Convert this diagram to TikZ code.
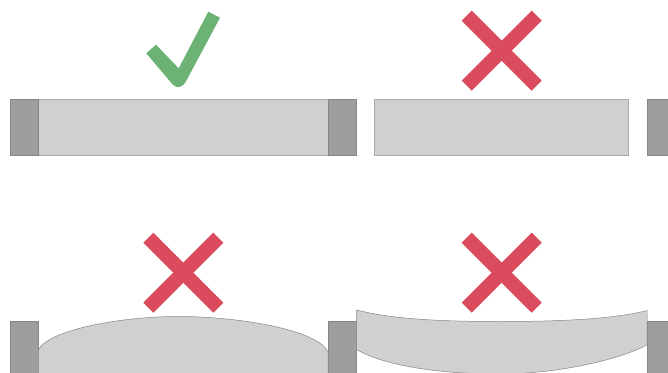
\documentclass[tikz,border=0pt]{standalone}
\definecolor{postfill}{HTML}{9D9E9D}
\definecolor{postline}{HTML}{858685}
\definecolor{slabfill}{HTML}{CFD1D0}
\definecolor{slabline}{HTML}{A9AAA9}
\definecolor{okgreen}{HTML}{6BB274}
\definecolor{badred}{HTML}{D94B5D}
\tikzset{
  post/.style={fill=postfill,draw=postline,line width=0.6pt},
  slab/.style={fill=slabfill,draw=slabline,line width=0.7pt},
  curved/.style={fill=slabfill,draw=postline,line width=0.5pt},
  bad/.style={draw=badred,line width=14.2pt,line cap=butt},
  pics/cross/.style={code={
    \draw[bad] (-35,-35) -- (35,35);
    \draw[bad] (-35,35) -- (35,-35);
  }}
}
\begin{document}
\begin{tikzpicture}[x=1pt,y=-1pt]
\useasboundingbox (0,0) rectangle (668,372);
\clip (0,0) rectangle (668,372);
% top left
\draw[slab] (38,99.5) rectangle (328,155);
\draw[post] (10.3,99.5) rectangle (38,155);
\draw[post] (328,99.5) rectangle (356.5,155);
\fill[okgreen] (146.3,53.3) -- (156,44.7) -- (178.7,68.3) -- (208.3,11.7) -- (220,17.7)
  -- (185.9,81.5) .. controls (183.5,86.5) and (177,89.5) .. (172.8,84.7) -- cycle;
% top right
\draw[slab] (374.6,99.5) rectangle (628.6,155);
\draw[post] (647,99.5) rectangle (680,155);
\pic at (501.7,50.7) {cross};
% bottom left
\draw[post] (10.3,321.5) rectangle (38,380);
\draw[post] (328,321.5) rectangle (356.5,380);
\draw[curved] (38.4,380) -- (38.4,350) .. controls (48,330) and (120,316.5) .. (178,316.5)
  .. controls (240,316.5) and (318,330) .. (328,352) -- (328,380) -- cycle;
\pic at (183.3,272.7) {cross};
% bottom right
\draw[post] (647,321.5) rectangle (680,380);
\draw[curved] (356.6,310) .. controls (395,320) and (450,321.5) .. (500,321.5)
  .. controls (550,321.5) and (610,320) .. (647.2,310.5) -- (647.2,344.5)
  .. controls (625,358) and (560,374) .. (500,374)
  .. controls (440,374) and (385,366) .. (356.6,349.5) -- cycle;
\pic at (501.7,272.7) {cross};
\end{tikzpicture}
\end{document}
